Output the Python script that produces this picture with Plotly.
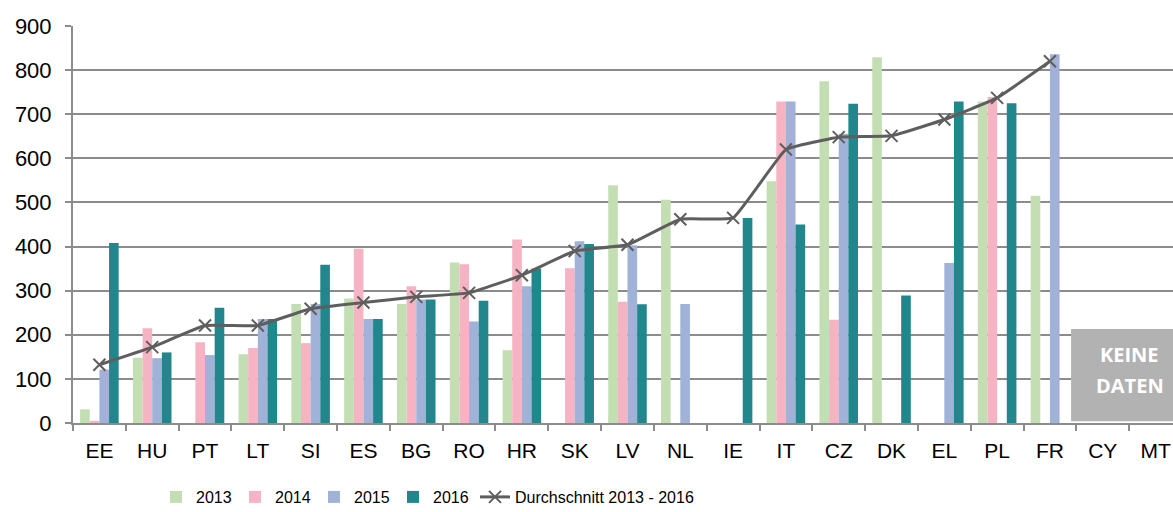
import plotly.graph_objects as go

countries = ["EE", "HU", "PT", "LT", "SI", "ES", "BG", "RO", "HR", "SK", "LV",
             "NL", "IE", "IT", "CZ", "DK", "EL", "PL", "FR", "CY", "MT"]
v2013 = [31, 148, None, 156, 270, 282, 270, 364, 165, None, 539,
         506, None, 548, 775, 829, None, 729, 515, None, None]
v2014 = [5, 215, 183, 170, 181, 395, 310, 360, 416, 351, 275,
         None, None, 729, 234, None, None, 739, None, None, None]
v2015 = [121, 147, 154, 236, 270, 236, 280, 230, 310, 412, 403,
         270, None, 729, 656, None, 363, None, 836, None, None]
v2016 = [408, 160, 261, 236, 359, 236, 280, 277, 350, 406, 269,
         None, 465, 450, 724, 289, 729, 725, None, None, None]
avg = [132, 172, 221, 221, 259, 273, 286, 295, 335, 390, 404,
       462, 465, 620, 648, 651, 688, 737, 820, None, None]
y_ticks = [0, 100, 200, 300, 400, 500, 600, 700, 800, 900]
series_names = ["2013", "2014", "2015", "2016"]
avg_name = "Durchschnitt 2013 - 2016"
no_data_lines = ["KEINE", "DATEN"]

colors = ["#C4DEB3", "#F5B3C3", "#A0B2D8", "#21878D"]
grid = "#8C8C8C"
line_col = "#5E5E5E"

fig = go.Figure()
for name, vals, col in zip(series_names, [v2013, v2014, v2015, v2016], colors):
    fig.add_trace(go.Bar(x=countries, y=vals, name=name, marker_color=col,
                         marker_line_width=0, legend="legend"))
fig.add_trace(go.Scatter(x=countries, y=avg, name=avg_name, mode="lines+markers",
                         line=dict(color=line_col, width=3, shape="spline", smoothing=0.3),
                         marker=dict(symbol="x-thin-open", size=12,
                                     line=dict(color=line_col, width=2)),
                         legend="legend2"))

# "no data" box over CY / MT
fig.add_shape(type="rect", xref="x", yref="y", x0=18.4, x1=20.6, y0=4, y1=213,
              fillcolor="#B2B2B2", line_width=0, layer="above")
for txt, yv in zip(no_data_lines, [156, 86]):
    fig.add_annotation(x=19.51, y=yv, xref="x", yref="y", text=txt,
                       showarrow=False,
                       font=dict(family="Open Sans, Liberation Sans", size=20,
                                 color="white", weight="bold"))

legend_font = dict(family="Liberation Sans, Arial", size=16, color="black")
fig.update_layout(
    width=1173, height=512,
    margin=dict(l=73, r=0, t=26, b=89, autoexpand=False),
    paper_bgcolor="white", plot_bgcolor="white",
    barmode="group", bargap=0.27, bargroupgap=0,
    font=dict(family="Liberation Sans, Arial", color="black"),
    legend=dict(orientation="h", xref="container", yref="container",
                x=156 / 1173, xanchor="left",
                y=(512 - 497) / 512, yanchor="middle",
                font=legend_font, itemwidth=30,
                entrywidth=34, entrywidthmode="pixels", traceorder="normal"),
    legend2=dict(orientation="h", xref="container", yref="container",
                 x=475 / 1173, xanchor="left",
                 y=(512 - 497) / 512, yanchor="middle",
                 font=legend_font, itemwidth=30),
    showlegend=True,
)
fig.update_xaxes(range=[-0.5, 20.33], showgrid=False, showline=True, linecolor=grid,
                 linewidth=2, ticks="outside", tickson="boundaries", ticklen=6,
                 tickcolor=grid, tickwidth=2, tickfont=dict(size=21), zeroline=False,
                 tickangle=0, ticklabelstandoff=8)
fig.update_yaxes(range=[0, 900], tickvals=y_ticks, showgrid=True, gridcolor=grid,
                 gridwidth=2, showline=True, linecolor=grid, linewidth=2,
                 ticks="outside", ticklen=6, tickcolor=grid, tickwidth=2,
                 tickfont=dict(size=22), zeroline=False, ticklabelstandoff=9)
fig.write_html("out.html", config={"displayModeBar": False},
               post_script="document.body.style.margin='0';document.body.style.overflow='hidden';")
